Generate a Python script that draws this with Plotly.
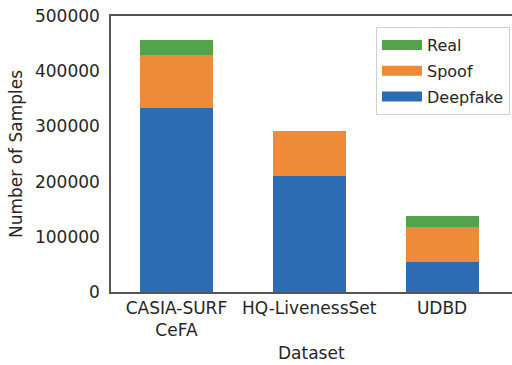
import plotly.graph_objects as go

datasets = ["CASIA-SURF<br>CeFA", "HQ-LivenessSet", "UDBD"]
deepfake = [333000, 211000, 55000]
spoof = [96000, 81000, 62000]
real = [28000, 0, 21000]
y_ticks = [0, 100000, 200000, 300000, 400000, 500000]

colors = {"Deepfake": "#2b6cb3", "Spoof": "#ee8b38", "Real": "#52a34c"}
font = "DejaVu Sans"

fig = go.Figure()
for name, vals in [("Deepfake", deepfake), ("Spoof", spoof), ("Real", real)]:
    fig.add_trace(go.Bar(x=[0, 1, 2], y=vals, name=name, width=0.55,
                         marker=dict(color=colors[name], line=dict(width=0)),
                         showlegend=False))
# legend proxies (wide patches like the reference)
for name in ["Real", "Spoof", "Deepfake"]:
    fig.add_trace(go.Scatter(x=[None], y=[None], mode="lines", name=name,
                             legendgroup=name,
                             line=dict(color=colors[name], width=10)))

fig.update_layout(
    width=512, height=365,
    margin=dict(l=111, r=0, t=16, b=73),
    barmode="stack",
    plot_bgcolor="white", paper_bgcolor="white",
    font=dict(family=font, size=17, color="#262626"),
    legend=dict(x=0.995, y=0.96, xanchor="right", yanchor="top",
                traceorder="grouped", bgcolor="white",
                bordercolor="#d0d0d0", borderwidth=1,
                font=dict(size=16), itemwidth=40,
                tracegroupgap=2),
    xaxis=dict(range=[-0.493, 2.527], tickmode="array", tickvals=[0, 1, 2],
               ticktext=datasets, showgrid=False, zeroline=False,
               showline=True, linecolor="#555555", linewidth=1.5, mirror=True,
               ticks="", ticklabelstandoff=0, automargin=False),
    yaxis=dict(range=[0, 500000], tickmode="array", tickvals=y_ticks,
               ticktext=[str(v) for v in y_ticks], showgrid=False, zeroline=False,
               showline=True, linecolor="#555555", linewidth=1.5,
               ticks="", ticklabelstandoff=6, automargin=False,
               ticklabeloverflow="allow",
               title=dict(text="Number of Samples", font=dict(size=17), standoff=8)),
    annotations=[dict(text="Dataset", xref="paper", yref="paper", x=0.5, y=-0.221,
                      xanchor="center", yanchor="middle", showarrow=False,
                      font=dict(size=17))],
)

# remove the browser's default 8px body margin so the figure fills the window
fig.write_html("out.html", config={"displayModeBar": False},
               post_script="document.body.style.margin='0';")
